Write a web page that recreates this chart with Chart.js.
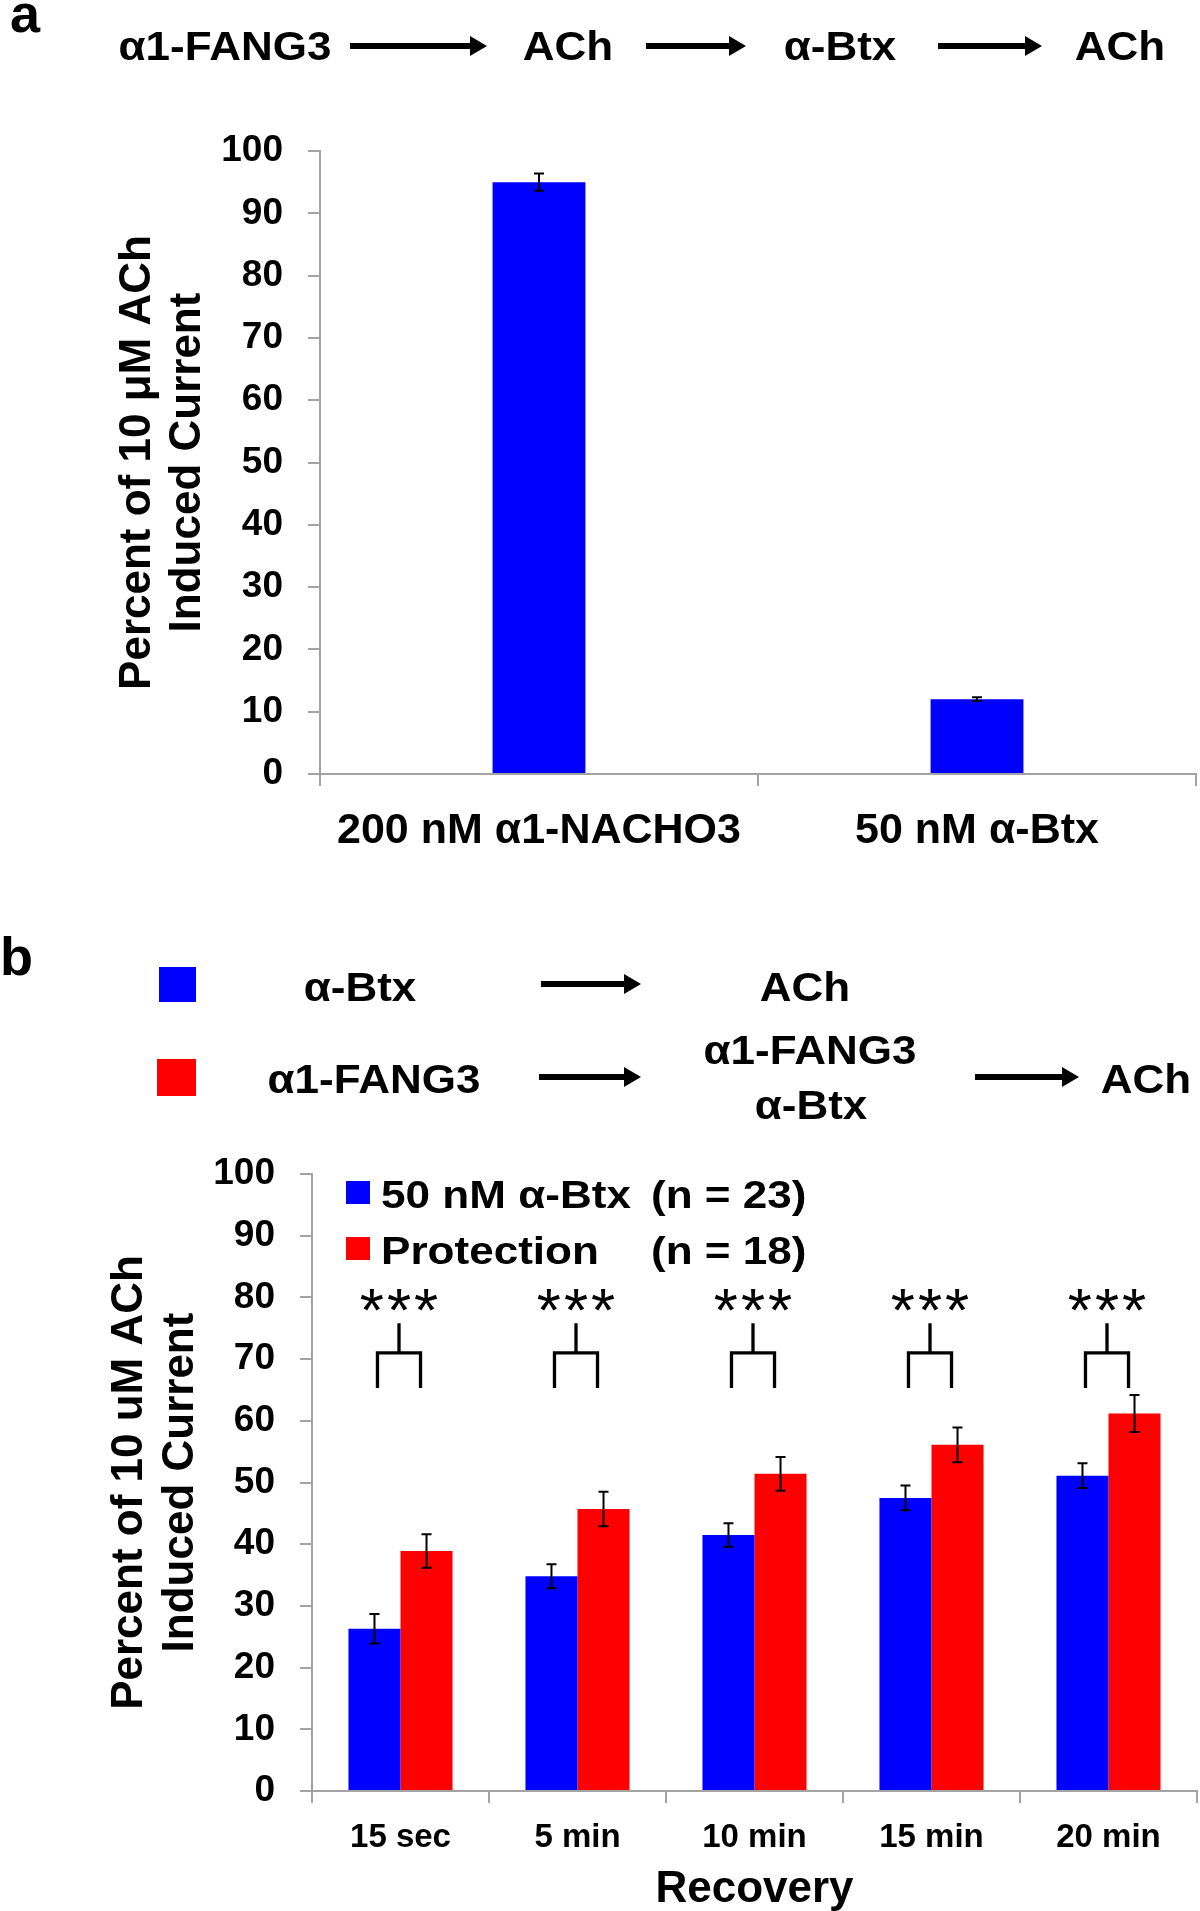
<!DOCTYPE html>
<html><head><meta charset="utf-8">
<script src="https://cdn.jsdelivr.net/npm/chart.js@4.4.1/dist/chart.umd.min.js"></script>
<style>
html,body{margin:0;padding:0;background:#fff;}
#wrap{position:relative;width:1200px;height:1911px;overflow:hidden;font-family:"Liberation Sans",Arial,sans-serif;font-weight:bold;color:#000;}
canvas{position:absolute;left:0;}
#ca{top:0;} #cb{top:900px;}
.t{position:absolute;line-height:1;white-space:nowrap;transform:translate(-50%,-50%) scaleX(1.1);font-size:40px;}
.big{position:absolute;line-height:1;white-space:nowrap;font-size:54px;}
.sq{position:absolute;}
#arrows{position:absolute;left:0;top:0;pointer-events:none;}
</style></head>
<body><div id="wrap">
<canvas id="ca" width="1200" height="900"></canvas>
<canvas id="cb" width="1200" height="1011"></canvas>

<div class="big" style="left:10px;top:-14px;">a</div>
<div class="t" style="left:225px;top:46px;">α1-FANG3</div>
<div class="t" style="left:568px;top:46px;">ACh</div>
<div class="t" style="left:840px;top:46px;">α-Btx</div>
<div class="t" style="left:1120px;top:46px;">ACh</div>

<div class="big" style="left:0px;top:929px;">b</div>
<div class="sq" style="left:159px;top:967px;width:37px;height:35px;background:#0000ff;"></div>
<div class="sq" style="left:157px;top:1059px;width:39px;height:37px;background:#ff0000;"></div>
<div class="t" style="left:360px;top:987px;">α-Btx</div>
<div class="t" style="left:805px;top:987px;">ACh</div>
<div class="t" style="left:374px;top:1079px;">α1-FANG3</div>
<div class="t" style="left:810px;top:1050px;">α1-FANG3</div>
<div class="t" style="left:811px;top:1105px;">α-Btx</div>
<div class="t" style="left:1146px;top:1079px;">ACh</div>

<svg id="arrows" width="1200" height="1911"></svg>
</div>
<script>
// ---------- data ----------
const catsA = ['200 nM α1-NACHO3', '50 nM α-Btx'];
const valsA = [95.0, 12.0];
const errA  = [1.4, 0.3];

const catsB = ['15 sec', '5 min', '10 min', '15 min', '20 min'];
const labelsB = ['50 nM α-Btx', 'Protection'];
const nLabelsB = ['(n = 23)', '(n = 18)'];
const btxVals  = [26.3, 34.8, 41.5, 47.5, 51.1];
const btxErr   = [2.4, 1.95, 1.9, 2.0, 2.0];
const protVals = [38.9, 45.7, 51.4, 56.1, 61.2];
const protErr  = [2.7, 2.8, 2.75, 2.8, 3.0];
const sigMarks = ['***', '***', '***', '***', '***'];

const yTitleA = ['Percent of 10 μM ACh', 'Induced Current'];
const yTitleB = ['Percent of 10 uM ACh', 'Induced Current'];
const xTitleB = 'Recovery';

// ---------- header arrows ----------
(function(){
  const svg = document.getElementById('arrows');
  const arrows = [[350,487,46],[646,746,46],[938,1042,46],[541,641,984],[539,641,1077],[975,1079,1077]];
  let s = '';
  arrows.forEach(([x1,x2,y])=>{
    s += `<rect x="${x1}" y="${y-3}" width="${x2-x1-15}" height="6" fill="#000"/>`;
    s += `<polygon points="${x2-17},${y-10} ${x2},${y} ${x2-17},${y+10}" fill="#000"/>`;
  });
  svg.innerHTML = s;
})();

// ---------- helpers ----------
const FONT = '"Liberation Sans", Arial, sans-serif';
const GRAY = '#a3a3a3';

const errorBars = {
  id: 'errorBars',
  afterDatasetsDraw(chart) {
    const ctx = chart.ctx, y = chart.scales.y;
    chart.data.datasets.forEach((ds, i) => {
      const meta = chart.getDatasetMeta(i);
      meta.data.forEach((bar, j) => {
        const v = ds.data[j], e = ds.errors[j];
        const t = y.getPixelForValue(v + e), b = y.getPixelForValue(v - e);
        ctx.save();
        ctx.strokeStyle = '#000'; ctx.lineWidth = 2;
        ctx.beginPath();
        ctx.moveTo(bar.x, t); ctx.lineTo(bar.x, b);
        ctx.moveTo(bar.x - 5, t); ctx.lineTo(bar.x + 5, t);
        ctx.moveTo(bar.x - 5, b); ctx.lineTo(bar.x + 5, b);
        ctx.stroke();
        ctx.restore();
      });
    });
  }
};

function yScale(width, title, titlePad, lineH) {
  return {
    min: 0, max: 100,
    ticks: { stepSize: 10, color: '#000', font: { family: FONT, weight: 'bold', size: 37 }, padding: 25 },
    grid: { drawOnChartArea: false, drawTicks: true, tickLength: 12, color: GRAY, lineWidth: 2 },
    border: { display: true, color: GRAY, width: 2 },
    title: { display: true, text: title, color: '#000',
             font: { family: FONT, weight: 'bold', size: 44, lineHeight: lineH },
             padding: { top: titlePad, bottom: 0 } },
    afterFit(s) { s.width = width; }
  };
}

// ---------- chart a ----------
new Chart(document.getElementById('ca'), {
  type: 'bar',
  data: {
    labels: catsA,
    datasets: [{ data: valsA, errors: errA, backgroundColor: '#0000ff', borderWidth: 0,
                 categoryPercentage: 1, barPercentage: 0.212 }]
  },
  options: {
    responsive: false, animation: false, devicePixelRatio: 1,
    layout: { padding: { top: 151, left: 0, right: 4, bottom: 0 } },
    plugins: { legend: { display: false }, tooltip: { enabled: false } },
    scales: {
      x: {
        ticks: { color: '#000', font: { family: FONT, weight: 'bold', size: 43, lineHeight: 1.2 },
                 padding: 19, autoSkip: false, maxRotation: 0, minRotation: 0 },
        grid: { drawOnChartArea: false, drawTicks: true, tickLength: 12, color: GRAY, lineWidth: 2 },
        border: { display: true, color: GRAY, width: 2 },
        afterFit(s) { s.height = 126; }
      },
      y: yScale(320, yTitleA, 113, 50 / 44)
    }
  },
  plugins: [errorBars]
});

// ---------- chart b ----------
const annotB = {
  id: 'annotB',
  afterDatasetsDraw(chart) {
    const ctx = chart.ctx, ca = chart.chartArea, y = chart.scales.y;
    // legend
    chart.data.datasets.forEach((ds, i) => {
      const dy = i * 56;
      ctx.save();
      ctx.fillStyle = ds.backgroundColor;
      ctx.fillRect(ca.left + 34, ca.top + 7 + dy, 24, 23);
      ctx.fillStyle = '#000';
      ctx.font = 'bold 39px ' + FONT;
      ctx.textBaseline = 'alphabetic';
      const base = ca.top + 20 + dy + 14;
      [[ds.label, 69], [nLabelsB[i], 339]].forEach(([txt, dx]) => {
        ctx.save();
        ctx.translate(ca.left + dx, base);
        ctx.scale(1.13, 1);
        ctx.fillText(txt, 0, 0);
        ctx.restore();
      });
      ctx.restore();
    });
    // significance brackets
    const m0 = chart.getDatasetMeta(0), m1 = chart.getDatasetMeta(1);
    sigMarks.forEach((mark, j) => {
      const l = m0.data[j].x + 3, r = m1.data[j].x - 6, mid = (l + r) / 2;
      const pLow = y.getPixelForValue(65.3), pBar = y.getPixelForValue(71), pTop = y.getPixelForValue(75.8);
      ctx.save();
      ctx.strokeStyle = '#000'; ctx.lineWidth = 3.3; ctx.lineCap = 'butt'; ctx.lineJoin = 'miter';
      ctx.beginPath();
      ctx.moveTo(l, pLow); ctx.lineTo(l, pBar); ctx.lineTo(r, pBar); ctx.lineTo(r, pLow);
      ctx.moveTo(mid, pBar); ctx.lineTo(mid, pTop);
      ctx.stroke();
      ctx.fillStyle = '#000';
      ctx.font = '62px ' + FONT;
      ctx.textAlign = 'center';
      ctx.textBaseline = 'alphabetic';
      try { ctx.letterSpacing = '3px'; } catch (e) {}
      ctx.fillText(mark, mid + 1.5, y.getPixelForValue(80.4) + 0.58 * 62);
      ctx.restore();
    });
  }
};

new Chart(document.getElementById('cb'), {
  type: 'bar',
  data: {
    labels: catsB,
    datasets: [
      { label: labelsB[0], data: btxVals, errors: btxErr, backgroundColor: '#0000ff', borderWidth: 0,
        categoryPercentage: 0.588, barPercentage: 1 },
      { label: labelsB[1], data: protVals, errors: protErr, backgroundColor: '#ff0000', borderWidth: 0,
        categoryPercentage: 0.588, barPercentage: 1 }
    ]
  },
  options: {
    responsive: false, animation: false, devicePixelRatio: 1,
    layout: { padding: { top: 274, left: 0, right: 3, bottom: 0 } },
    plugins: { legend: { display: false }, tooltip: { enabled: false } },
    scales: {
      x: {
        ticks: { color: '#000', font: { family: FONT, weight: 'bold', size: 33, lineHeight: 1.2 },
                 padding: 15, autoSkip: false, maxRotation: 0, minRotation: 0 },
        grid: { drawOnChartArea: false, drawTicks: true, tickLength: 12, color: GRAY, lineWidth: 2 },
        border: { display: true, color: GRAY, width: 2 },
        title: { display: true, text: xTitleB, color: '#000',
                 font: { family: FONT, weight: 'bold', size: 44, lineHeight: 0.9 },
                 padding: { top: 0, bottom: 1 } },
        afterFit(s) { s.height = 120; }
      },
      y: yScale(312, yTitleB, 104.5, 51 / 44)
    }
  },
  plugins: [errorBars, annotB]
});
</script>
</body></html>
